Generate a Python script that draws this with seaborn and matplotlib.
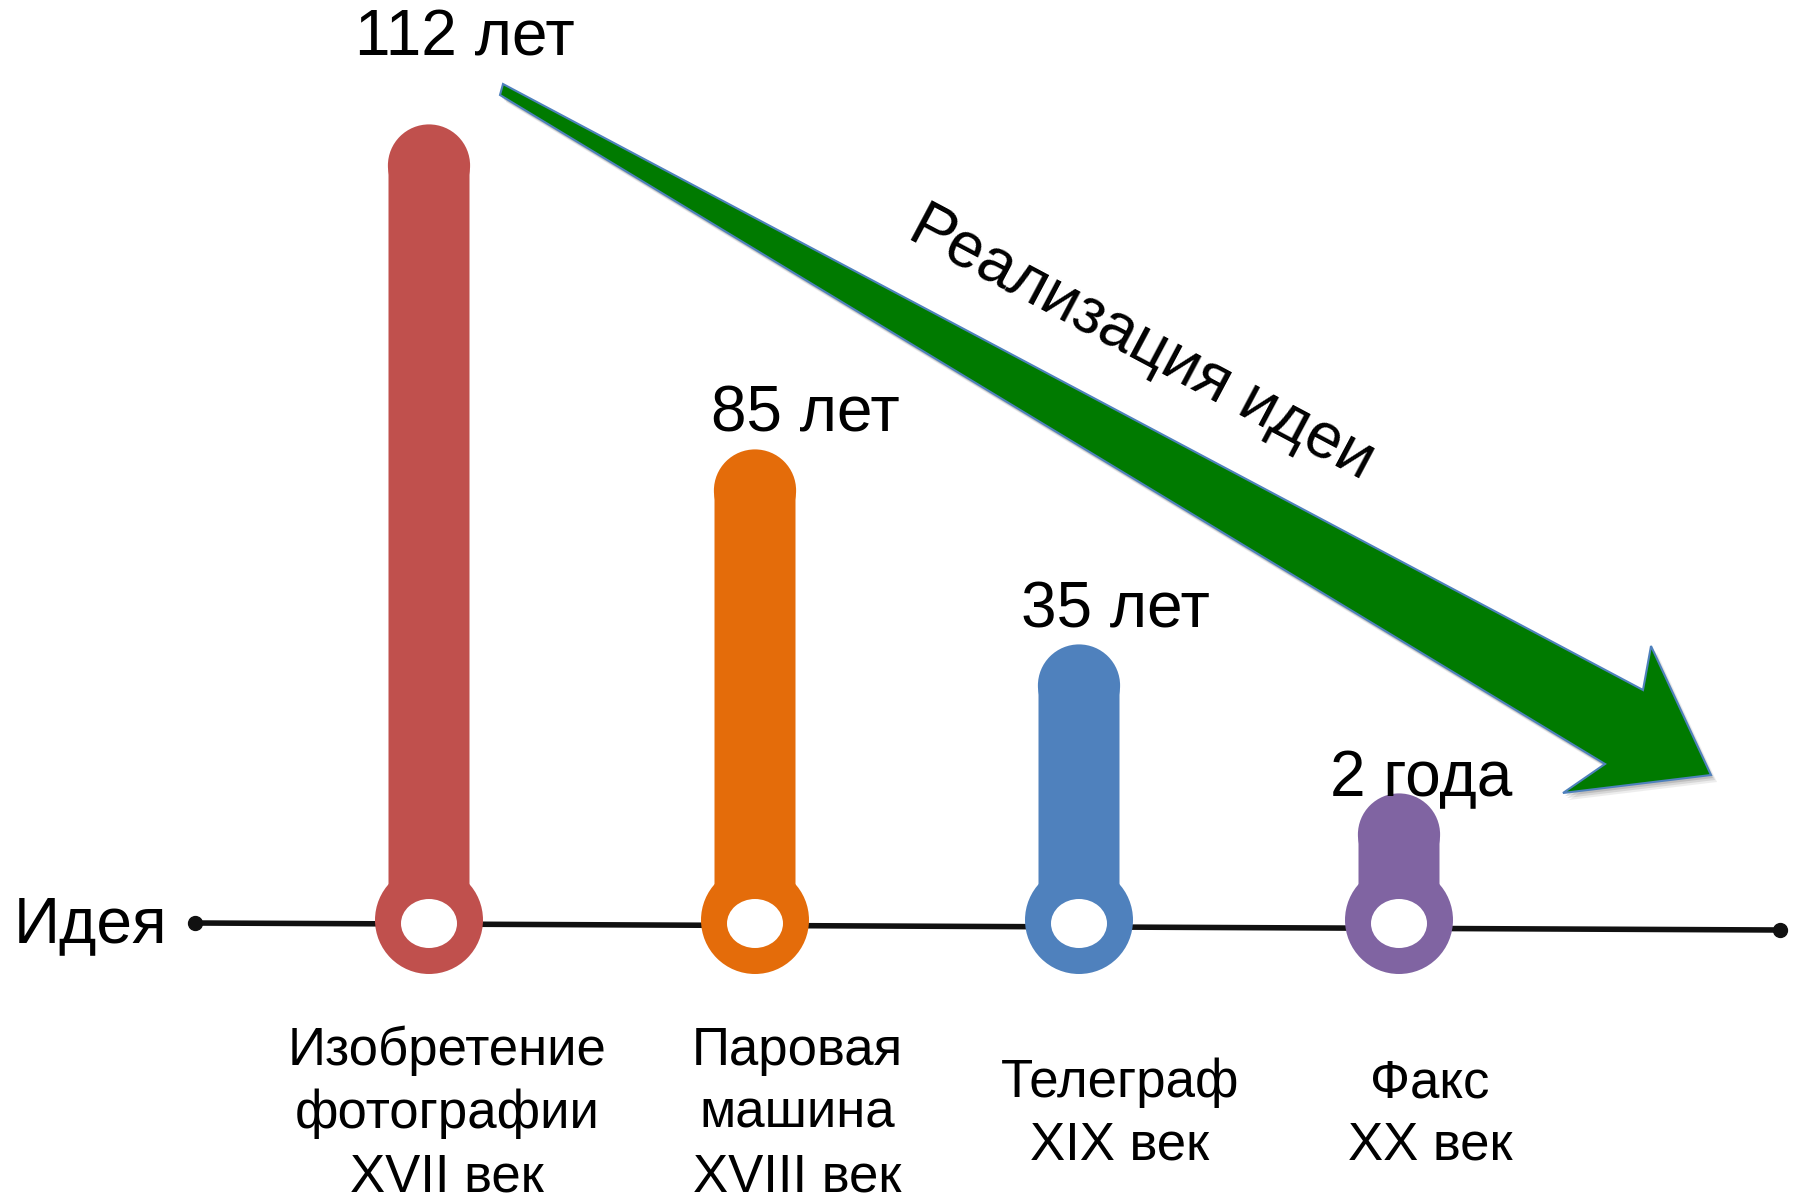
import numpy as np
import pandas as pd
import matplotlib
matplotlib.use("Agg")
import matplotlib.pyplot as plt
from matplotlib.patches import Circle, Ellipse, Polygon
import seaborn as sns

# ---------------- data ----------------
categories = ["Изобретение\nфотографии\nXVII век",
              "Паровая\nмашина\nXVIII век",
              "Телеграф\nXIX век",
              "Факс\nXX век"]
durations = ["112 лет", "85 лет", "35 лет", "2 года"]
bar_heights = [795, 470, 275, 126]          # visual stalk heights above the "idea" line
colors = ["#C0504D", "#E46C0A", "#4F81BD", "#8064A2"]
baseline_label = "Идея"
arrow_label = "Реализация идеи"

# ---------------- layout ----------------
W, H = 1794, 1202
BASE = 920                      # pixel row of the idea line (y=0 in data space)
x_pos = [429, 755, 1079, 1399]
BAR_W = 81
R = BAR_W / 2
RING_R = 54
label_dx = [36, 50, 36, 22]
label_dy = [70, 19, 17, -2]
cat_x = [447, 797, 1120, 1430]
cat_first_baseline = [1065, 1065, 1097, 1097]
LINE_PITCH = 63
BIG = 46
SMALL = 38

sns.set_theme(style="white")
plt.rcParams['font.family'] = ['Liberation Sans', 'DejaVu Sans']

fig = plt.figure(figsize=(W / 100, H / 100), dpi=100)
ax = fig.add_axes([0, 0, 1, 1])


def py(y_pix):
    return BASE - y_pix


# green arrow (with soft shadow)
arrow_px = [(503, 84), (1643, 690), (1651, 646), (1711, 775),
            (1563, 793), (1605, 764), (500, 95)]
arrow_xy = np.array([(x, py(y)) for x, y in arrow_px], dtype=float)
for dx, dy, a in [(6, -7, 0.10), (4, -5, 0.15), (2, -3, 0.2)]:
    ax.add_patch(Polygon(arrow_xy + [dx, dy], closed=True, facecolor="#555555",
                         edgecolor="none", alpha=a, zorder=1))
ax.add_patch(Polygon(arrow_xy, closed=True, facecolor="#007A00",
                     edgecolor="#4F81BD", linewidth=1.5, zorder=1.5))

# idea line
ax.plot([195, 1780], [py(923), py(930)], color="#111111", lw=4, zorder=2,
        solid_capstyle="butt")
ax.plot([195, 1780], [py(923), py(930)], "o", color="#111111", ms=10, zorder=2)

# stalks
df = pd.DataFrame({"x": x_pos,
                   "h": np.array(bar_heights, dtype=float) - R,
                   "cat": categories})
sns.barplot(data=df, x="x", y="h", hue="cat", palette=colors, native_scale=True,
            width=BAR_W / np.min(np.diff(x_pos)), legend=False, errorbar=None,
            saturation=1, linewidth=0, ax=ax, zorder=3)
for p in ax.patches:
    p.set_snap(False)

for x, h, c in zip(x_pos, bar_heights, colors):
    ax.add_patch(Circle((x, h - R), R + 0.6, color=c, zorder=3, lw=0))
    ax.add_patch(Circle((x, 0), RING_R, color=c, zorder=4, lw=0))
    ax.add_patch(Ellipse((x, -3.5), 56, 49, color="white", zorder=5, lw=0))

# value labels
for x, h, t, dx, dy in zip(x_pos, bar_heights, durations, label_dx, label_dy):
    ax.text(x + dx, h + dy, t, fontsize=BIG, ha="center", va="baseline",
            color="black", zorder=6)

# category labels
for x, b, t in zip(cat_x, cat_first_baseline, categories):
    for i, line in enumerate(t.split("\n")):
        ax.text(x, py(b + i * LINE_PITCH), line, fontsize=SMALL, ha="center",
                va="baseline", color="black", zorder=6)

ax.text(14, py(942), baseline_label, fontsize=BIG, ha="left", va="baseline",
        color="black", zorder=6)

ax.text(1134, py(358), arrow_label, fontsize=BIG, ha="center", va="baseline",
        rotation=-28, rotation_mode="anchor", color="black", zorder=6)

ax.set_xlim(0, W)
ax.set_ylim(py(H), py(0))
ax.set_axis_off()

fig.savefig("out.png", dpi=100, facecolor="white")
